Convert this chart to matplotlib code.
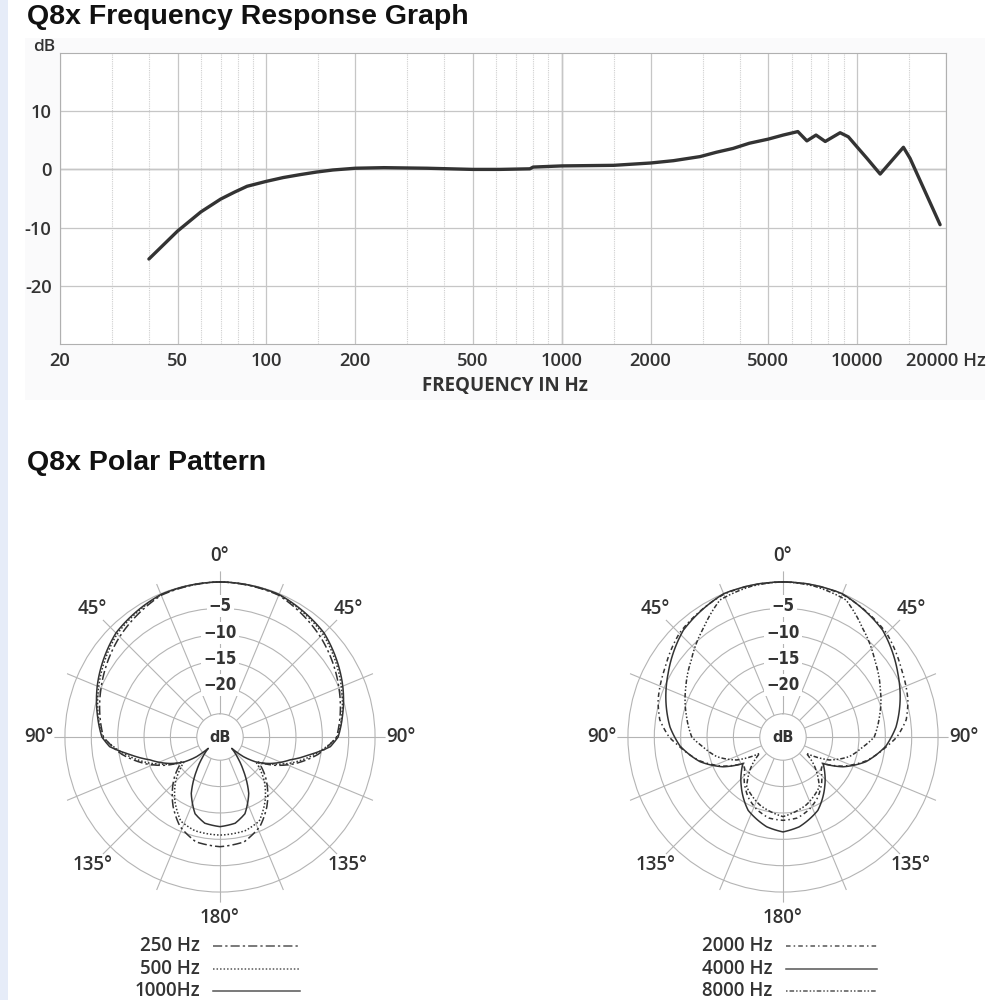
import numpy as np
import matplotlib
matplotlib.use('Agg')
import matplotlib.pyplot as plt
from matplotlib.lines import Line2D
from matplotlib.patches import Rectangle
from matplotlib.ticker import FixedLocator, NullFormatter

# frequency response (Hz, dB)
freq_hz = [40, 50, 60, 70, 78, 86, 100, 114, 130, 148, 168, 200, 250, 350, 500, 618, 780, 800,
           1000, 1500, 2000, 2390, 2940, 3340, 3800, 4320, 5000, 5620, 6300, 6760, 7260,
           7800, 8760, 9340, 10100, 10800, 11970, 14350, 15110, 19100]
response_db = [-15.4, -10.6, -7.3, -5.1, -3.9, -2.9, -2.05, -1.4, -0.9, -0.45, -0.1, 0.2, 0.3,
               0.2, 0.0, 0.0, 0.1, 0.4, 0.6, 0.7, 1.1, 1.5, 2.2, 2.95, 3.6, 4.5, 5.2, 5.9,
               6.5, 4.9, 5.9, 4.8, 6.3, 5.6, 3.6, 1.9, -0.8, 3.8, 1.9, -9.5]
x_major = [20, 50, 100, 200, 500, 1000, 2000, 5000, 10000, 20000]
x_labels = ['20', '50', '100', '200', '500', '1000', '2000', '5000', '10000', '20000 Hz']
x_minor = [30, 40, 60, 70, 80, 90, 150, 300, 400, 600, 700, 800, 900, 1500, 3000,
           4000, 6000, 7000, 8000, 9000, 15000]
y_ticks = [-20, -10, 0, 10]

# polar patterns, half plane (degrees 0..180), mirrored when drawn
ang_250 = [0, 22.5, 45, 67.5, 90, 100, 110, 118, 123, 131, 146, 156, 167, 180]
db_250 = [0, -0.3, -2.5, -5.0, -7.3, -10.5, -14.5, -18.0, -20.7, -18.0, -13.5, -10.8, -9.0, -8.6]
ang_500 = [0, 22.5, 45, 67.5, 90, 100, 110, 118, 125, 135, 145, 155, 165, 180]
db_500 = [0, -0.2, -1.8, -4.5, -7.1, -11.0, -15.0, -18.5, -21.0, -17.5, -14.5, -11.8, -11.0, -10.8]
ang_1000 = [0, 22.5, 45, 67.5, 80, 90, 95, 101, 108, 118, 125, 130, 134, 140, 145, 153, 162, 170, 180]
db_1000 = [0, -0.15, -1.5, -4.2, -5.8, -7.0, -8.4, -12.0, -15.4, -18.7, -21.2, -23.6, -26.3,
           -24.0, -21.7, -17.4, -14.1, -12.8, -12.4]

ang_2000 = [0, 22.5, 45, 60, 73.5, 82, 90, 95, 106, 116, 124, 131, 140, 150, 160, 170, 180]
db_2000 = [0, -0.1, -1.6, -3.5, -4.7, -5.8, -7.8, -9.6, -13.0, -16.8, -20.5, -19.8, -18.0,
           -16.2, -14.8, -13.8, -13.6]
ang_4000 = [0, 22.5, 43, 61, 71, 85, 95, 106.6, 116.4, 120, 123.5, 131, 140, 154.6, 169.7, 180]
db_4000 = [0, 0, -1.7, -4.5, -5.9, -7.9, -9.8, -13.0, -16.7, -18.5, -20.3, -18.9, -17.1,
           -14.0, -12.1, -11.4]
ang_8000 = [0, 12, 24.7, 36, 50, 62.6, 78, 90, 97, 106.5, 116.4, 125, 132, 144, 161, 180]
db_8000 = [0, -0.2, -0.8, -3.8, -6.7, -8.65, -10.7, -12.1, -14.1, -16.3, -19.6, -24.0, -21.5,
           -17.7, -15.8, -14.3]

ring_db = [-5, -10, -15, -20]
dir_labels = {0: '0°', 45: '45°', 90: '90°', 135: '135°', 180: '180°',
              225: '135°', 270: '90°', 315: '45°'}

ink = '#333333'
grid_c = '#b4b4b4'
title_font = 'Liberation Sans'
txt_font = 'Open Sans'

fig = plt.figure(figsize=(10, 10), dpi=100)
fig.patch.set_facecolor('white')
fig.patches.append(Rectangle((0, 0), 0.008, 1, transform=fig.transFigure,
                             facecolor='#e6ecf8', edgecolor='none', zorder=-5))
fig.patches.append(Rectangle((0.025, 0.600), 0.960, 0.362, transform=fig.transFigure,
                             facecolor='#fafafb', edgecolor='none', zorder=-5))

fig.text(0.027, 0.976, 'Q8x Frequency Response Graph', family=title_font,
         weight='bold', fontsize=20.5, color='#111111', va='baseline')
fig.text(0.027, 0.530, 'Q8x Polar Pattern', family=title_font,
         weight='bold', fontsize=20.5, color='#111111', va='baseline')

# ---- frequency response ----
ax = fig.add_axes([0.060, 0.656, 0.886, 0.291])
ax.set_facecolor('white')
ax.set_xscale('log')
ax.plot(freq_hz, response_db, color=ink, lw=2.4, zorder=5,
        solid_joinstyle='round', solid_capstyle='round')
ax.set_xlim(20, 20000)
ax.set_ylim(-30, 20)
ax.xaxis.set_major_locator(FixedLocator(x_major))
ax.set_xticklabels(x_labels)
ax.xaxis.set_minor_locator(FixedLocator(x_minor))
ax.xaxis.set_minor_formatter(NullFormatter())
ax.set_yticks(y_ticks)
ax.set_yticklabels([str(v) for v in y_ticks])
ax.grid(which='major', color='#c6c6c6', lw=0.9)
ax.grid(which='minor', axis='x', color='#cfcfcf', lw=0.8, ls=(0, (1, 1)))
ax.axvline(1000, color='#8c8c8c', lw=0.9, zorder=1)
ax.axhline(0, color='#a8a8a8', lw=1.0, zorder=1)
ax.tick_params(which='both', length=0, labelsize=13.2, labelcolor=ink, pad=6)
for lab in ax.get_xticklabels() + ax.get_yticklabels():
    lab.set_family(txt_font)
    lab.set_weight('semibold')
for s in ax.spines.values():
    s.set_color('#b0b0b0')
fig.text(0.044, 0.953, 'dB', family=txt_font, weight='semibold', fontsize=12.5,
         color=ink, ha='center', va='center')
fig.text(0.505, 0.614, 'FREQUENCY IN Hz', family=txt_font, weight='bold',
         fontsize=13.5, color=ink, ha='center', va='center')


# ---- polar patterns ----
def mirror(ang, vals):
    a = np.asarray(ang, float)
    v = np.asarray(vals, float)
    return np.deg2rad(np.r_[a, 360 - a[::-1][1:]]), np.r_[v, v[::-1][1:]]


def polar_panel(left, series):
    pax = fig.add_axes([left, 0.0974, 0.3312, 0.3312], projection='polar')
    pax.set_theta_zero_location('N')
    pax.set_theta_direction(-1)
    pax.set_rorigin(-29.4)
    pax.set_ylim(-25, 2)
    pax.set_thetagrids(np.arange(0, 360, 22.5), labels=[''] * 16)
    pax.set_rgrids([-20, -15, -10, -5, 0], labels=[''] * 5)
    pax.grid(color=grid_c, lw=0.8)
    pax.spines['polar'].set_visible(False)
    pax.spines['inner'].set_color(grid_c)
    pax.spines['inner'].set_linewidth(0.8)
    pax.tick_params(length=0)
    for ang, vals, ls in series:
        th, r = mirror(ang, vals)
        ln, = pax.plot(th, r, color=ink, lw=1.1, ls=ls, clip_on=False, zorder=4)
        # draw segments as arcs between the read points
        ln.get_path()._interpolation_steps = 12
    for rv in ring_db:
        pax.text(0, rv + 0.4, '\u2212' + str(-rv), family='DejaVu Sans', fontstretch='condensed',
                 weight='bold', fontsize=12, color=ink, ha='center', va='center', zorder=6,
                 bbox=dict(boxstyle='square,pad=0.12', fc='white', ec='none'))
    for deg, lab in dir_labels.items():
        pax.text(np.deg2rad(deg), 4.9, lab, family=txt_font, weight='semibold', fontsize=13.5,
                 color=ink, ha='center', va='center', clip_on=False)
    pax.text(0.5, 0.5, 'dB', transform=pax.transAxes, family='DejaVu Sans',
             fontstretch='condensed', weight='bold', fontsize=11.5, color=ink,
             ha='center', va='center')
    return pax


style_250 = (0, (6, 2, 1.5, 2))
style_500 = (0, (1, 1.3))
style_2000 = (0, (3, 2, 1, 2))
style_8000 = (0, (1, 1.3, 3, 1.3, 1, 1.3))

polar_panel(0.0544, [(ang_250, db_250, style_250),
                     (ang_500, db_500, style_500),
                     (ang_1000, db_1000, '-')])
polar_panel(0.6174, [(ang_2000, db_2000, style_2000),
                     (ang_4000, db_4000, '-'),
                     (ang_8000, db_8000, style_8000)])

# legends
legend_rows = [
    (0.200, 0.213, 0.300, [('250 Hz', style_250), ('500 Hz', style_500), ('1000Hz', '-')]),
    (0.772, 0.786, 0.877, [('2000 Hz', style_2000), ('4000 Hz', '-'), ('8000 Hz', style_8000)]),
]
row_y = [0.054, 0.031, 0.009]
for tx, x0, x1, rows in legend_rows:
    for (lab, ls), y in zip(rows, row_y):
        fig.text(tx, y, lab, family=txt_font, weight='semibold', fontsize=13.5,
                 color=ink, ha='right', va='center')
        fig.add_artist(Line2D([x0, x1], [y, y], transform=fig.transFigure,
                              color='#555555', lw=1.1, ls=ls))

fig.savefig('out.png', dpi=100, facecolor=fig.get_facecolor())
